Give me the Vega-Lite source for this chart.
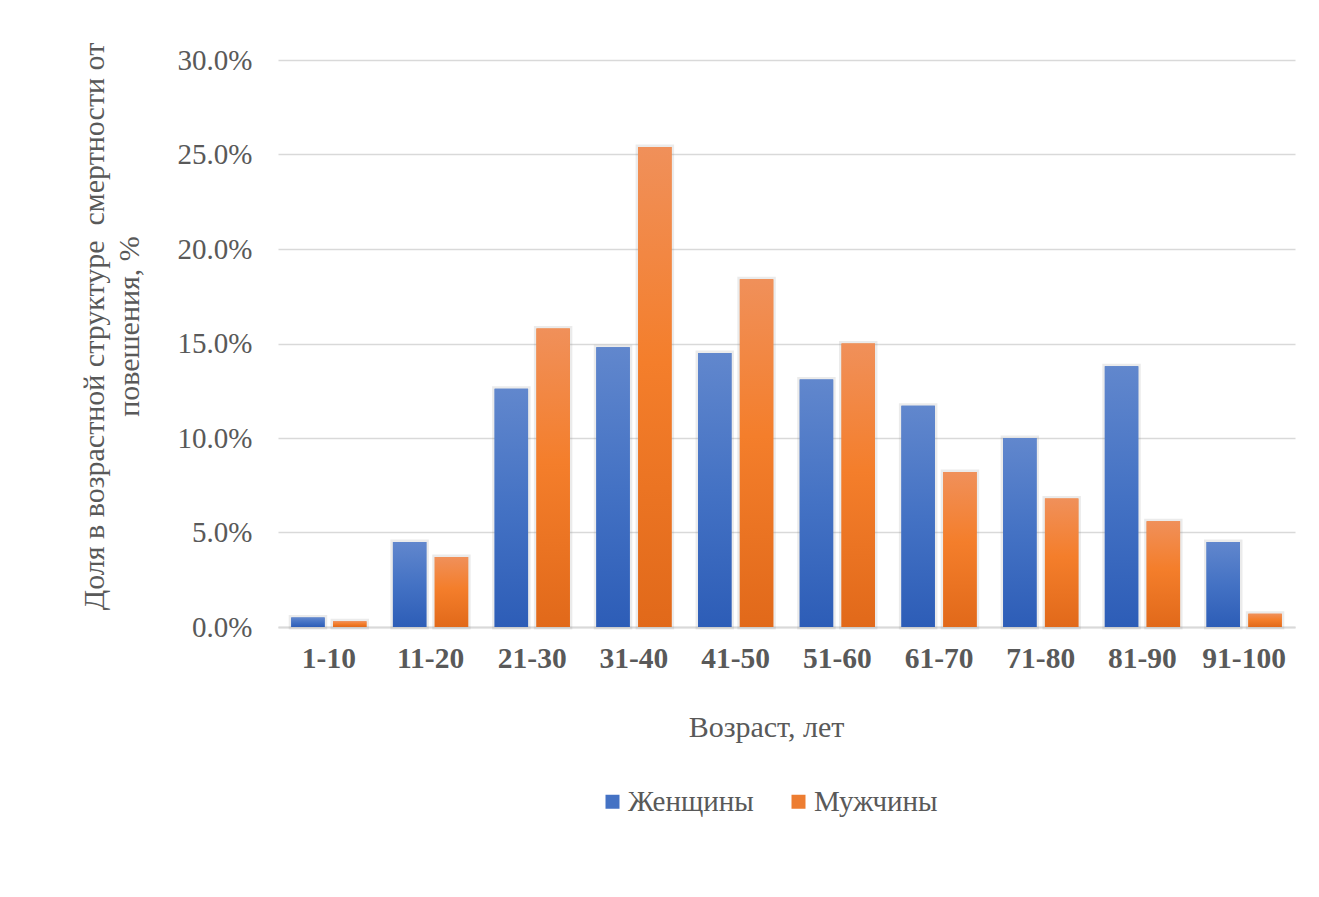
{
  "$schema": "https://vega.github.io/schema/vega-lite/v6.json",
  "autosize": {"type": "none"},
  "width": 1017,
  "height": 567,
  "padding": {"left": 278, "top": 60, "right": 24, "bottom": 270},
  "background": "#ffffff",
  "config": {
    "view": {"stroke": null},
    "font": "Liberation Serif",
    "axis": {"labelFont": "Liberation Serif", "titleFont": "Liberation Serif", "labelColor": "#595959", "titleColor": "#595959"},
    "legend": {"labelFont": "Liberation Serif"}
  },
  "data": {
    "values": [
      {"age": "1-10", "sex": "Женщины", "share": 0.005},
      {"age": "1-10", "sex": "Мужчины", "share": 0.003},
      {"age": "11-20", "sex": "Женщины", "share": 0.045},
      {"age": "11-20", "sex": "Мужчины", "share": 0.037},
      {"age": "21-30", "sex": "Женщины", "share": 0.126},
      {"age": "21-30", "sex": "Мужчины", "share": 0.158},
      {"age": "31-40", "sex": "Женщины", "share": 0.148},
      {"age": "31-40", "sex": "Мужчины", "share": 0.254},
      {"age": "41-50", "sex": "Женщины", "share": 0.145},
      {"age": "41-50", "sex": "Мужчины", "share": 0.184},
      {"age": "51-60", "sex": "Женщины", "share": 0.131},
      {"age": "51-60", "sex": "Мужчины", "share": 0.150},
      {"age": "61-70", "sex": "Женщины", "share": 0.117},
      {"age": "61-70", "sex": "Мужчины", "share": 0.082},
      {"age": "71-80", "sex": "Женщины", "share": 0.100},
      {"age": "71-80", "sex": "Мужчины", "share": 0.068},
      {"age": "81-90", "sex": "Женщины", "share": 0.138},
      {"age": "81-90", "sex": "Мужчины", "share": 0.056},
      {"age": "91-100", "sex": "Женщины", "share": 0.045},
      {"age": "91-100", "sex": "Мужчины", "share": 0.007}
    ]
  },
  "encoding": {
    "x": {
      "field": "age",
      "type": "nominal",
      "sort": null,
      "scale": {"paddingInner": 0.26, "paddingOuter": 0.13},
      "axis": {
        "title": "Возраст, лет",
        "labelAngle": 0,
        "labelFontSize": 29.5,
        "labelFontWeight": "bold",
        "labelPadding": 17,
        "ticks": false,
        "domainColor": "#d9d9d9",
        "domainWidth": 2,
        "titleFontSize": 30,
        "titleFontWeight": "normal",
        "titlePadding": 40,
        "titleX": 488
      }
    },
    "xOffset": {
      "field": "sex",
      "type": "nominal",
      "sort": ["Женщины", "Мужчины"],
      "scale": {"paddingInner": 0.2, "paddingOuter": 0}
    },
    "y": {
      "field": "share",
      "type": "quantitative",
      "scale": {"domain": [0, 0.3], "nice": false},
      "axis": {
        "values": [0, 0.05, 0.1, 0.15, 0.2, 0.25, 0.3],
        "format": ".1%",
        "labelFontSize": 29,
        "labelPadding": 26,
        "ticks": false,
        "domain": false,
        "gridColor": "#d9d9d9",
        "gridWidth": 1.5,
        "title": ["Доля в возрастной структуре \u00a0смертности от", "повешения, %"],
        "titleFontSize": 30,
        "titleFontWeight": "normal",
        "titleLineHeight": 35,
        "titleAngle": -90,
        "titleBaseline": "alphabetic",
        "titleAlign": "center",
        "titleX": -175,
        "titleY": 266
      }
    }
  },
  "layer": [
    {
      "mark": {"type": "bar", "fillOpacity": 0, "stroke": "#808080", "strokeOpacity": 0.16, "strokeWidth": 5},
      "encoding": {}
    },
    {
      "mark": {"type": "bar"},
      "encoding": {
        "color": {
          "field": "sex",
          "type": "nominal",
          "sort": ["Женщины", "Мужчины"],
          "scale": {"domain": ["Женщины", "Мужчины"], "range": ["#4472c4", "#ed7d31"]},
          "legend": {
            "title": null,
            "orient": "none",
            "direction": "horizontal",
            "legendX": 320,
            "legendY": 727,
            "symbolType": "square",
            "symbolSize": 196,
            "symbolStrokeWidth": 0,
            "labelFontSize": 29,
            "labelColor": "#595959",
            "labelOffset": 1,
            "columnPadding": 30
          }
        }
      }
    },
    {
      "mark": {"type": "bar"},
      "encoding": {
        "fill": {
          "condition": {
            "test": "datum.sex === 'Женщины'",
            "value": {
              "gradient": "linear", "x1": 0, "y1": 0, "x2": 0, "y2": 1,
              "stops": [
                {"offset": 0, "color": "#6187cd"},
                {"offset": 0.5, "color": "#4472c4"},
                {"offset": 1, "color": "#2d5db7"}
              ]
            }
          },
          "value": {
            "gradient": "linear", "x1": 0, "y1": 0, "x2": 0, "y2": 1,
            "stops": [
              {"offset": 0, "color": "#f0905a"},
              {"offset": 0.45, "color": "#f47e2b"},
              {"offset": 1, "color": "#e1691a"}
            ]
          }
        }
      }
    }
  ]
}
